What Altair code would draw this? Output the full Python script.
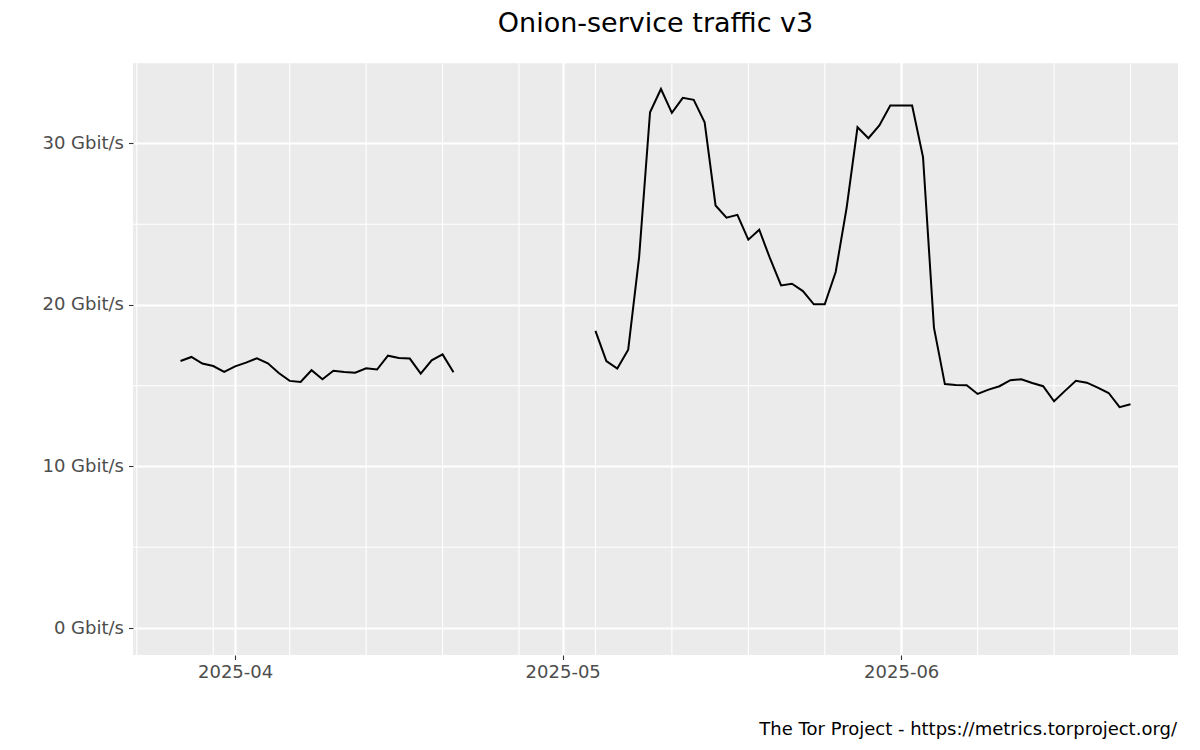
import altair as alt
import pandas as pd

TITLE = "Onion-service traffic v3"
CAPTION = "The Tor Project - https://metrics.torproject.org/"
FONT = "DejaVu Sans"

# Daily values (Gbit/s), two runs of data with a gap between them
SEG1_DATES = pd.date_range("2025-03-27", "2025-04-21", freq="D").strftime("%Y-%m-%d").tolist()
SEG1_VALUES = [16.53, 16.78, 16.37, 16.22, 15.85, 16.20, 16.43, 16.70, 16.39, 15.79,
               15.30, 15.23, 15.96, 15.40, 15.93, 15.85, 15.81, 16.08, 16.00, 16.86,
               16.72, 16.68, 15.75, 16.57, 16.94, 15.83]

SEG2_DATES = pd.date_range("2025-05-04", "2025-06-22", freq="D").strftime("%Y-%m-%d").tolist()
SEG2_VALUES = [18.39, 16.53, 16.06, 17.23, 22.96, 31.93, 33.37, 31.89, 32.82, 32.70,
               31.31, 26.16, 25.40, 25.58, 24.04, 24.66, 22.86, 21.21, 21.31, 20.86,
               20.04, 20.04, 22.04, 26.00, 31.00, 30.32, 31.11, 32.34, 32.34, 32.34,
               29.15, 18.60, 15.10, 15.05, 15.03, 14.49, 14.76, 14.97, 15.34, 15.40,
               15.17, 14.97, 14.04, 14.68, 15.30, 15.19, 14.88, 14.55, 13.67, 13.85]

# Axis breaks
X_MAJOR = ["2025-04-01", "2025-05-01", "2025-06-01"]
X_MINOR = ["2025-03-23", "2025-03-30", "2025-04-06", "2025-04-13", "2025-04-20",
           "2025-04-27", "2025-05-04", "2025-05-11", "2025-05-18", "2025-05-25",
           "2025-06-08", "2025-06-15", "2025-06-22"]
Y_MAJOR = [0, 10, 20, 30]
Y_MINOR = [5, 15, 25, 35]

df = pd.DataFrame({
    "date": SEG1_DATES + SEG2_DATES,
    "value": SEG1_VALUES + SEG2_VALUES,
    "segment": ["a"] * len(SEG1_DATES) + ["b"] * len(SEG2_DATES),
})
minor_x = pd.DataFrame({"date": X_MINOR})
minor_y = pd.DataFrame({"value": Y_MINOR})
cap_df = pd.DataFrame({"caption": [CAPTION]})


def ymd(s, h=0, m=0):
    y, mo, d = (int(p) for p in s.split("-"))
    return alt.DateTime(year=y, month=mo, date=d, hours=h, minutes=m, utc=True)


x_scale = alt.Scale(type="utc", domain=[ymd("2025-03-22", 15, 36), ymd("2025-06-26", 8, 24)])
y_scale = alt.Scale(domain=[-1.67, 35.04], nice=False, zero=False)

x_axis = alt.Axis(values=[ymd(d) for d in X_MAJOR],
                  labelExpr="utcFormat(datum.value, '%Y-%m')",
                  labelPadding=4, labelFlush=False, labelOverlap=False)
y_axis = alt.Axis(values=Y_MAJOR, labelExpr="datum.value + ' Gbit/s'", labelPadding=5)

x_enc = alt.X("date:T", scale=x_scale, axis=x_axis, title=None)
y_enc = alt.Y("value:Q", scale=y_scale, axis=y_axis, title=None)

W, H = 1045, 593

minor_v = alt.Chart(minor_x).mark_rule(color="white", strokeWidth=1.1).encode(x=x_enc)
minor_h = alt.Chart(minor_y).mark_rule(color="white", strokeWidth=1.1).encode(y=y_enc)

line = alt.Chart(df).mark_line(color="black", strokeWidth=2).encode(
    x=x_enc,
    y=y_enc,
    detail="segment:N",
)

caption = alt.Chart(cap_df).mark_text(
    align="right", baseline="alphabetic", fontSize=18, font=FONT, color="black"
).encode(
    x=alt.value(1044), y=alt.value(673), text="caption:N"
)

chart = alt.layer(minor_v, minor_h, line, caption).properties(
    width=W, height=H,
    title=alt.TitleParams(TITLE, fontSize=27, font=FONT, fontWeight="normal",
                          color="black", anchor="middle", offset=23),
    autosize=alt.AutoSizeParams(type="none"),
    padding={"left": 125, "top": 54, "right": 10, "bottom": 86},
).configure_view(
    fill="#EBEBEB", strokeWidth=0
).configure_axis(
    grid=True, gridColor="white", gridWidth=2.2, domain=False,
    tickColor="#333333", tickWidth=1.1, tickSize=4.5,
    labelFont=FONT, labelFontSize=18, labelColor="#4D4D4D",
)

chart.save("out.html", embed_options={"renderer": "svg", "actions": False})
